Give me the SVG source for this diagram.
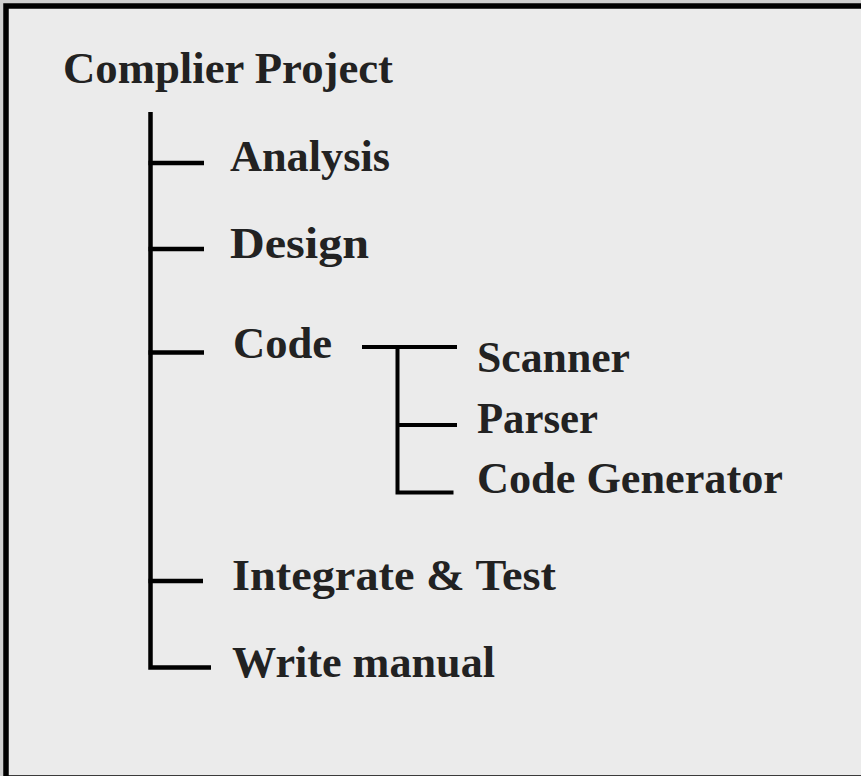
<svg xmlns="http://www.w3.org/2000/svg" width="861" height="776" viewBox="0 0 861 776">
  <style>
    .label { font-family: "Liberation Serif", "Times New Roman", serif; font-weight: bold; font-size: 45px; fill: #222222; }
    .tree { stroke: #000000; fill: none; stroke-linecap: butt; stroke-linejoin: miter; }
    .main { stroke-width: 4.5; }
    .sub { stroke-width: 4; }
  </style>

  <!-- page background and frame -->
  <rect x="0" y="0" width="861" height="776" fill="#cfcfcf"/>
  <rect x="6" y="6" width="870" height="772" fill="#ebebeb" stroke="#000000" stroke-width="5.5"/>

  <!-- connectors -->
  <g id="connectors">
    <path class="tree main" d="M150.5,112 V667.5 H211"/>
    <path class="tree main" d="M148.5,163 H204"/>
    <path class="tree main" d="M148.5,249 H204"/>
    <path class="tree main" d="M148.5,352.5 H204"/>
    <path class="tree main" d="M148.5,581 H203"/>
    <path class="tree sub" d="M362,347 H457"/>
    <path class="tree sub" d="M397.5,347 V492.5 H453.5"/>
    <path class="tree sub" d="M397.5,425 H457"/>
  </g>

  <!-- nodes -->
  <g id="node-root"><text class="label" x="63" y="83" textLength="330" lengthAdjust="spacingAndGlyphs">Complier Project</text></g>
  <g id="node-analysis"><text class="label" x="230" y="171" textLength="160" lengthAdjust="spacingAndGlyphs">Analysis</text></g>
  <g id="node-design"><text class="label" x="230" y="258" textLength="139" lengthAdjust="spacingAndGlyphs">Design</text></g>
  <g id="node-code"><text class="label" x="233" y="358" textLength="99" lengthAdjust="spacingAndGlyphs">Code</text></g>
  <g id="node-scanner"><text class="label" x="477" y="372" textLength="153" lengthAdjust="spacingAndGlyphs">Scanner</text></g>
  <g id="node-parser"><text class="label" x="477" y="433" textLength="121" lengthAdjust="spacingAndGlyphs">Parser</text></g>
  <g id="node-codegen"><text class="label" x="477" y="493" textLength="306" lengthAdjust="spacingAndGlyphs">Code Generator</text></g>
  <g id="node-integrate"><text class="label" x="232" y="590" textLength="324" lengthAdjust="spacingAndGlyphs">Integrate &amp; Test</text></g>
  <g id="node-manual"><text class="label" x="232" y="677" textLength="263" lengthAdjust="spacingAndGlyphs">Write manual</text></g>
</svg>
